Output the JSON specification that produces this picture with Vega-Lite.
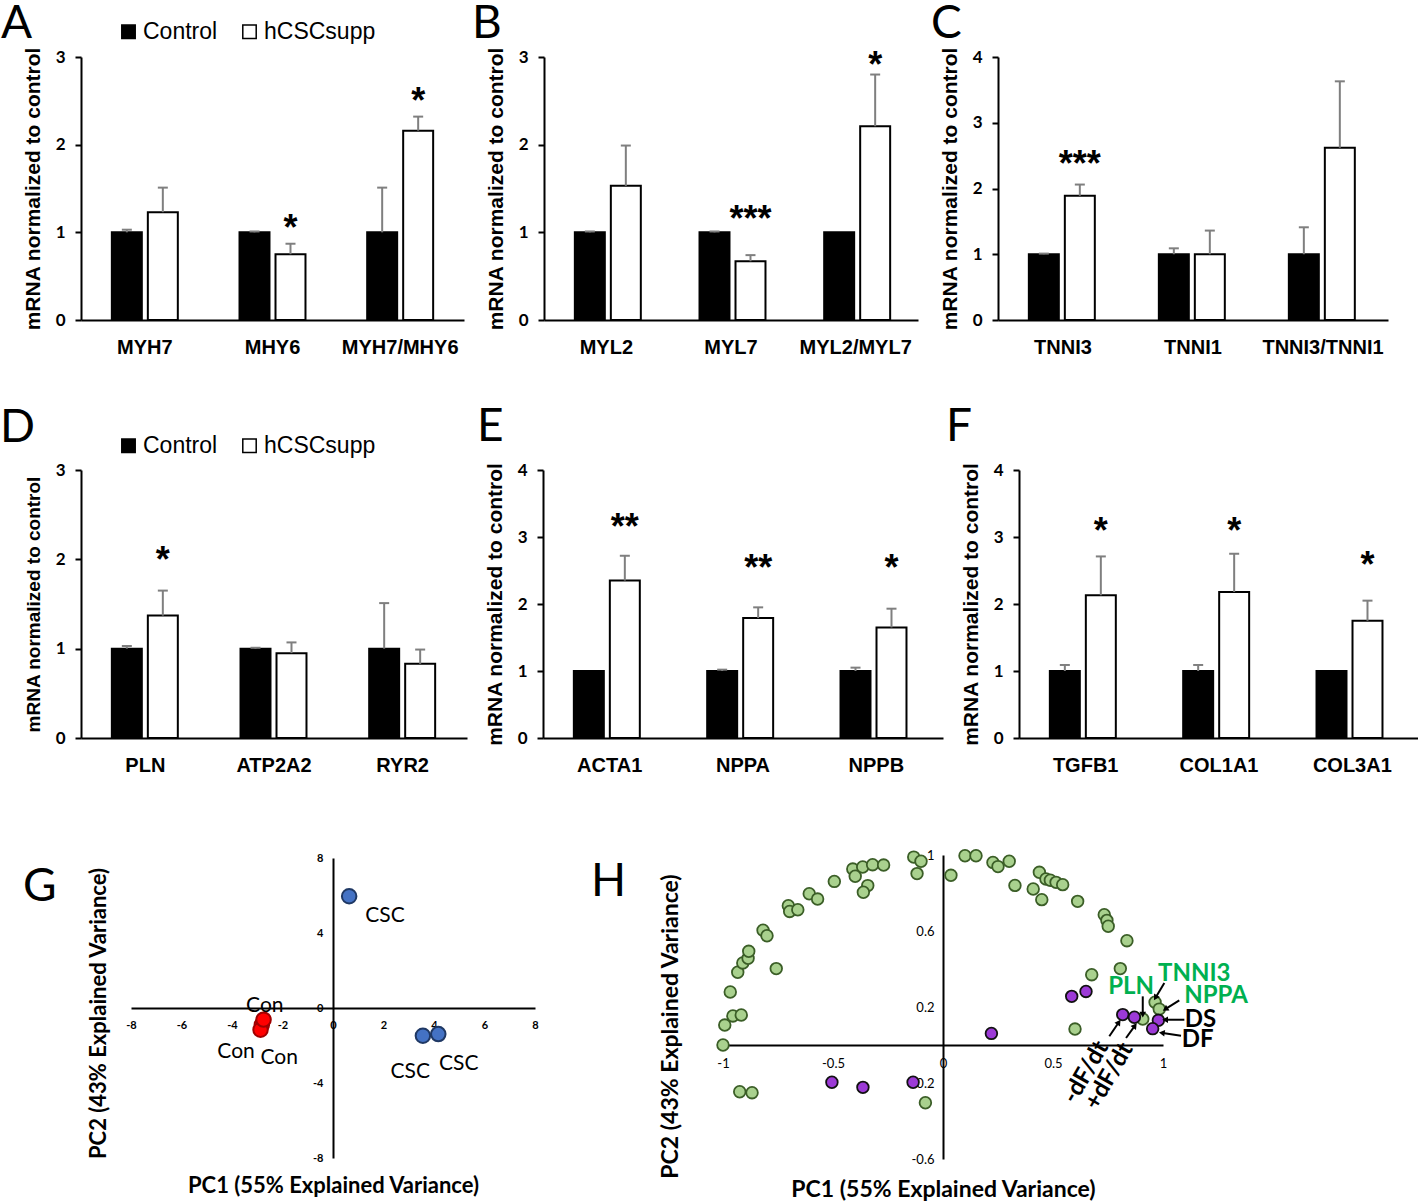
{
  "$schema": "https://vega.github.io/schema/vega-lite/v6.json",
  "background": "white",
  "padding": {"left": 0, "top": 0, "right": 0, "bottom": 0},
  "spacing": 71,
  "vconcat": [
    {
      "spacing": 47,
      "vconcat": [
        {
          "hconcat": [
            {
              "width": 383, "height": 263,
              "title": {"text": "A", "dx": -80, "dy": 32},
              "data": {"values": [
                {"gene": "MYH7", "group": "Control", "value": 1.0, "upper": 1.03},
                {"gene": "MYH7", "group": "hCSCsupp", "value": 1.23, "upper": 1.51},
                {"gene": "MHY6", "group": "Control", "value": 1.0, "upper": 1.01},
                {"gene": "MHY6", "group": "hCSCsupp", "value": 0.75, "upper": 0.87},
                {"gene": "MYH7/MHY6", "group": "Control", "value": 1.0, "upper": 1.51},
                {"gene": "MYH7/MHY6", "group": "hCSCsupp", "value": 2.16, "upper": 2.32}
              ]},
              "encoding": {
                "x": {"field": "gene", "type": "nominal", "sort": ["MYH7", "MHY6", "MYH7/MHY6"], "scale": {"paddingInner": 0, "paddingOuter": 0}, "axis": {"title": null}},
                "xOffset": {"field": "group", "type": "nominal", "sort": ["Control", "hCSCsupp"], "scale": {"paddingInner": 0.167, "paddingOuter": 0.857}}
              },
              "layer": [
                {"mark": {"type": "bar", "stroke": "black", "strokeWidth": 2},
                 "encoding": {
                   "y": {"field": "value", "type": "quantitative", "scale": {"domain": [0, 3]}, "axis": {"title": "mRNA normalized to control", "values": [0, 1, 2, 3]}},
                   "fill": {"field": "group", "type": "nominal", "scale": {"domain": ["Control", "hCSCsupp"], "range": ["black", "white"]},
                     "legend": {"orient": "none", "legendX": 36, "legendY": -37, "direction": "horizontal", "title": null, "columnPadding": 20, "labelOffset": 3}}}},
                {"transform": [{"filter": "datum.upper > datum.value"}], "mark": {"type": "rule", "color": "#7f7f7f", "strokeWidth": 2},
                 "encoding": {"y": {"field": "value", "type": "quantitative"}, "y2": {"field": "upper"}}},
                {"transform": [{"filter": "datum.upper > datum.value"}], "mark": {"type": "tick", "color": "#7f7f7f", "thickness": 2, "size": 10, "opacity": 1},
                 "encoding": {"y": {"field": "upper", "type": "quantitative"}}},
                {"data": {"values": [
                   {"gene": "MHY6", "group": "hCSCsupp", "sig": "*", "sy": 1.10},
                   {"gene": "MYH7/MHY6", "group": "hCSCsupp", "sig": "*", "sy": 2.54}
                 ]},
                 "mark": {"type": "text", "font": "Liberation Sans", "fontWeight": "bold", "fontSize": 36, "baseline": "alphabetic", "dy": 16},
                 "encoding": {"y": {"field": "sy", "type": "quantitative"}, "text": {"field": "sig"}}}
              ]
            },
            {
              "width": 374, "height": 263,
              "title": {"text": "B", "dx": -72, "dy": 5},
              "data": {"values": [
                {"gene": "MYL2", "group": "Control", "value": 1.0, "upper": 1.01},
                {"gene": "MYL2", "group": "hCSCsupp", "value": 1.53, "upper": 1.99},
                {"gene": "MYL7", "group": "Control", "value": 1.0, "upper": 1.01},
                {"gene": "MYL7", "group": "hCSCsupp", "value": 0.67, "upper": 0.74},
                {"gene": "MYL2/MYL7", "group": "Control", "value": 1.0, "upper": 1.0},
                {"gene": "MYL2/MYL7", "group": "hCSCsupp", "value": 2.21, "upper": 2.8}
              ]},
              "encoding": {
                "x": {"field": "gene", "type": "nominal", "sort": ["MYL2", "MYL7", "MYL2/MYL7"], "scale": {"paddingInner": 0, "paddingOuter": 0}, "axis": {"title": null}},
                "xOffset": {"field": "group", "type": "nominal", "sort": ["Control", "hCSCsupp"], "scale": {"paddingInner": 0.171, "paddingOuter": 0.867}}
              },
              "layer": [
                {"mark": {"type": "bar", "stroke": "black", "strokeWidth": 2},
                 "encoding": {
                   "y": {"field": "value", "type": "quantitative", "scale": {"domain": [0, 3]}, "axis": {"title": "mRNA normalized to control", "values": [0, 1, 2, 3]}},
                   "fill": {"field": "group", "type": "nominal", "scale": {"domain": ["Control", "hCSCsupp"], "range": ["black", "white"]}, "legend": null}}},
                {"transform": [{"filter": "datum.upper > datum.value"}], "mark": {"type": "rule", "color": "#7f7f7f", "strokeWidth": 2},
                 "encoding": {"y": {"field": "value", "type": "quantitative"}, "y2": {"field": "upper"}}},
                {"transform": [{"filter": "datum.upper > datum.value"}], "mark": {"type": "tick", "color": "#7f7f7f", "thickness": 2, "size": 10, "opacity": 1},
                 "encoding": {"y": {"field": "upper", "type": "quantitative"}}},
                {"data": {"values": [
                   {"gene": "MYL7", "group": "hCSCsupp", "sig": "***", "sy": 1.2},
                   {"gene": "MYL2/MYL7", "group": "hCSCsupp", "sig": "*", "sy": 2.96}
                 ]},
                 "mark": {"type": "text", "font": "Liberation Sans", "fontWeight": "bold", "fontSize": 36, "baseline": "alphabetic", "dy": 16},
                 "encoding": {"y": {"field": "sy", "type": "quantitative"}, "text": {"field": "sig"}}}
              ]
            },
            {
              "width": 390, "height": 263,
              "title": {"text": "C", "dx": -67, "dy": 5},
              "data": {"values": [
                {"gene": "TNNI3", "group": "Control", "value": 1.0, "upper": 1.01},
                {"gene": "TNNI3", "group": "hCSCsupp", "value": 1.89, "upper": 2.06},
                {"gene": "TNNI1", "group": "Control", "value": 1.0, "upper": 1.09},
                {"gene": "TNNI1", "group": "hCSCsupp", "value": 1.0, "upper": 1.36},
                {"gene": "TNNI3/TNNI1", "group": "Control", "value": 1.0, "upper": 1.41},
                {"gene": "TNNI3/TNNI1", "group": "hCSCsupp", "value": 2.62, "upper": 3.63}
              ]},
              "encoding": {
                "x": {"field": "gene", "type": "nominal", "sort": ["TNNI3", "TNNI1", "TNNI3/TNNI1"], "scale": {"paddingInner": 0, "paddingOuter": 0}, "axis": {"title": null}},
                "xOffset": {"field": "group", "type": "nominal", "sort": ["Control", "hCSCsupp"], "scale": {"paddingInner": 0.189, "paddingOuter": 0.851}}
              },
              "layer": [
                {"mark": {"type": "bar", "stroke": "black", "strokeWidth": 2},
                 "encoding": {
                   "y": {"field": "value", "type": "quantitative", "scale": {"domain": [0, 4]}, "axis": {"title": "mRNA normalized to control", "values": [0, 1, 2, 3, 4]}},
                   "fill": {"field": "group", "type": "nominal", "scale": {"domain": ["Control", "hCSCsupp"], "range": ["black", "white"]}, "legend": null}}},
                {"transform": [{"filter": "datum.upper > datum.value"}], "mark": {"type": "rule", "color": "#7f7f7f", "strokeWidth": 2},
                 "encoding": {"y": {"field": "value", "type": "quantitative"}, "y2": {"field": "upper"}}},
                {"transform": [{"filter": "datum.upper > datum.value"}], "mark": {"type": "tick", "color": "#7f7f7f", "thickness": 2, "size": 10, "opacity": 1},
                 "encoding": {"y": {"field": "upper", "type": "quantitative"}}},
                {"data": {"values": [
                   {"gene": "TNNI3", "group": "hCSCsupp", "sig": "***", "sy": 2.43}
                 ]},
                 "mark": {"type": "text", "font": "Liberation Sans", "fontWeight": "bold", "fontSize": 36, "baseline": "alphabetic", "dy": 16},
                 "encoding": {"y": {"field": "sy", "type": "quantitative"}, "text": {"field": "sig"}}}
              ]
            }
          ],
          "spacing": 80,
          "bounds": "flush",
          "resolve": {"scale": {"fill": "independent"}}
        },
        {
          "hconcat": [
            {
              "width": 386, "height": 268,
              "title": {"text": "D", "dx": -81, "dy": 22},
              "data": {"values": [
                {"gene": "PLN", "group": "Control", "value": 1.0, "upper": 1.03},
                {"gene": "PLN", "group": "hCSCsupp", "value": 1.37, "upper": 1.65},
                {"gene": "ATP2A2", "group": "Control", "value": 1.0, "upper": 1.01},
                {"gene": "ATP2A2", "group": "hCSCsupp", "value": 0.95, "upper": 1.07},
                {"gene": "RYR2", "group": "Control", "value": 1.0, "upper": 1.51},
                {"gene": "RYR2", "group": "hCSCsupp", "value": 0.83, "upper": 0.99}
              ]},
              "encoding": {
                "x": {"field": "gene", "type": "nominal", "sort": ["PLN", "ATP2A2", "RYR2"], "scale": {"paddingInner": 0, "paddingOuter": 0}, "axis": {"title": null}},
                "xOffset": {"field": "group", "type": "nominal", "sort": ["Control", "hCSCsupp"], "scale": {"paddingInner": 0.194, "paddingOuter": 0.884}}
              },
              "layer": [
                {"mark": {"type": "bar", "stroke": "black", "strokeWidth": 2},
                 "encoding": {
                   "y": {"field": "value", "type": "quantitative", "scale": {"domain": [0, 3]}, "axis": {"title": "mRNA normalized to control", "values": [0, 1, 2, 3], "titleFontSize": 19}},
                   "fill": {"field": "group", "type": "nominal", "scale": {"domain": ["Control", "hCSCsupp"], "range": ["black", "white"]},
                     "legend": {"orient": "none", "legendX": 36, "legendY": -36, "direction": "horizontal", "title": null, "columnPadding": 20, "labelOffset": 3}}}},
                {"transform": [{"filter": "datum.upper > datum.value"}], "mark": {"type": "rule", "color": "#7f7f7f", "strokeWidth": 2},
                 "encoding": {"y": {"field": "value", "type": "quantitative"}, "y2": {"field": "upper"}}},
                {"transform": [{"filter": "datum.upper > datum.value"}], "mark": {"type": "tick", "color": "#7f7f7f", "thickness": 2, "size": 10, "opacity": 1},
                 "encoding": {"y": {"field": "upper", "type": "quantitative"}}},
                {"data": {"values": [
                   {"gene": "PLN", "group": "hCSCsupp", "sig": "*", "sy": 2.04}
                 ]},
                 "mark": {"type": "text", "font": "Liberation Sans", "fontWeight": "bold", "fontSize": 36, "baseline": "alphabetic", "dy": 16},
                 "encoding": {"y": {"field": "sy", "type": "quantitative"}, "text": {"field": "sig"}}}
              ]
            },
            {
              "width": 400, "height": 268,
              "title": {"text": "E", "dx": -66, "dy": -6},
              "data": {"values": [
                {"gene": "ACTA1", "group": "Control", "value": 1.0, "upper": 1.0},
                {"gene": "ACTA1", "group": "hCSCsupp", "value": 2.35, "upper": 2.72},
                {"gene": "NPPA", "group": "Control", "value": 1.0, "upper": 1.02},
                {"gene": "NPPA", "group": "hCSCsupp", "value": 1.79, "upper": 1.95},
                {"gene": "NPPB", "group": "Control", "value": 1.0, "upper": 1.05},
                {"gene": "NPPB", "group": "hCSCsupp", "value": 1.65, "upper": 1.93}
              ]},
              "encoding": {
                "x": {"field": "gene", "type": "nominal", "sort": ["ACTA1", "NPPA", "NPPB"], "scale": {"paddingInner": 0, "paddingOuter": 0}, "axis": {"title": null}},
                "xOffset": {"field": "group", "type": "nominal", "sort": ["Control", "hCSCsupp"], "scale": {"paddingInner": 0.18, "paddingOuter": 0.8}}
              },
              "layer": [
                {"mark": {"type": "bar", "stroke": "black", "strokeWidth": 2},
                 "encoding": {
                   "y": {"field": "value", "type": "quantitative", "scale": {"domain": [0, 4]}, "axis": {"title": "mRNA normalized to control", "values": [0, 1, 2, 3, 4]}},
                   "fill": {"field": "group", "type": "nominal", "scale": {"domain": ["Control", "hCSCsupp"], "range": ["black", "white"]}, "legend": null}}},
                {"transform": [{"filter": "datum.upper > datum.value"}], "mark": {"type": "rule", "color": "#7f7f7f", "strokeWidth": 2},
                 "encoding": {"y": {"field": "value", "type": "quantitative"}, "y2": {"field": "upper"}}},
                {"transform": [{"filter": "datum.upper > datum.value"}], "mark": {"type": "tick", "color": "#7f7f7f", "thickness": 2, "size": 10, "opacity": 1},
                 "encoding": {"y": {"field": "upper", "type": "quantitative"}}},
                {"data": {"values": [
                   {"gene": "ACTA1", "group": "hCSCsupp", "sig": "**", "sy": 3.21},
                   {"gene": "NPPA", "group": "hCSCsupp", "sig": "**", "sy": 2.59},
                   {"gene": "NPPB", "group": "hCSCsupp", "sig": "*", "sy": 2.59}
                 ]},
                 "mark": {"type": "text", "font": "Liberation Sans", "fontWeight": "bold", "fontSize": 36, "baseline": "alphabetic", "dy": 16},
                 "encoding": {"y": {"field": "sy", "type": "quantitative"}, "text": {"field": "sig"}}}
              ]
            },
            {
              "width": 400, "height": 268,
              "title": {"text": "F", "dx": -73, "dy": -6},
              "data": {"values": [
                {"gene": "TGFB1", "group": "Control", "value": 1.0, "upper": 1.09},
                {"gene": "TGFB1", "group": "hCSCsupp", "value": 2.13, "upper": 2.71},
                {"gene": "COL1A1", "group": "Control", "value": 1.0, "upper": 1.09},
                {"gene": "COL1A1", "group": "hCSCsupp", "value": 2.18, "upper": 2.75},
                {"gene": "COL3A1", "group": "Control", "value": 1.0, "upper": 1.0},
                {"gene": "COL3A1", "group": "hCSCsupp", "value": 1.75, "upper": 2.05}
              ]},
              "encoding": {
                "x": {"field": "gene", "type": "nominal", "sort": ["TGFB1", "COL1A1", "COL3A1"], "scale": {"paddingInner": 0, "paddingOuter": 0}, "axis": {"title": null}},
                "xOffset": {"field": "group", "type": "nominal", "sort": ["Control", "hCSCsupp"], "scale": {"paddingInner": 0.18, "paddingOuter": 0.8}}
              },
              "layer": [
                {"mark": {"type": "bar", "stroke": "black", "strokeWidth": 2},
                 "encoding": {
                   "y": {"field": "value", "type": "quantitative", "scale": {"domain": [0, 4]}, "axis": {"title": "mRNA normalized to control", "values": [0, 1, 2, 3, 4]}},
                   "fill": {"field": "group", "type": "nominal", "scale": {"domain": ["Control", "hCSCsupp"], "range": ["black", "white"]}, "legend": null}}},
                {"transform": [{"filter": "datum.upper > datum.value"}], "mark": {"type": "rule", "color": "#7f7f7f", "strokeWidth": 2},
                 "encoding": {"y": {"field": "value", "type": "quantitative"}, "y2": {"field": "upper"}}},
                {"transform": [{"filter": "datum.upper > datum.value"}], "mark": {"type": "tick", "color": "#7f7f7f", "thickness": 2, "size": 10, "opacity": 1},
                 "encoding": {"y": {"field": "upper", "type": "quantitative"}}},
                {"data": {"values": [
                   {"gene": "TGFB1", "group": "hCSCsupp", "sig": "*", "sy": 3.15},
                   {"gene": "COL1A1", "group": "hCSCsupp", "sig": "*", "sy": 3.15},
                   {"gene": "COL3A1", "group": "hCSCsupp", "sig": "*", "sy": 2.64}
                 ]},
                 "mark": {"type": "text", "font": "Liberation Sans", "fontWeight": "bold", "fontSize": 36, "baseline": "alphabetic", "dy": 16},
                 "encoding": {"y": {"field": "sy", "type": "quantitative"}, "text": {"field": "sig"}}}
              ]
            }
          ],
          "spacing": 76,
          "bounds": "flush",
          "resolve": {"scale": {"fill": "independent"}}
        }
      ]
    },
    {
      "hconcat": [
        {
          "width": 454, "height": 303,
          "title": {"text": "G", "dx": -58, "dy": 63},
          "layer": [
            {"data": {"values": [
               {"pc1": -2.82, "pc2": -0.9, "group": "Con"},
               {"pc1": -2.87, "pc2": -1.16, "group": "Con"},
               {"pc1": -2.75, "pc2": -0.62, "group": "Con"},
               {"pc1": 0.64, "pc2": 5.96, "group": "CSC"},
               {"pc1": 3.56, "pc2": -1.48, "group": "CSC"},
               {"pc1": 4.17, "pc2": -1.39, "group": "CSC"}
             ]},
             "mark": {"type": "circle", "size": 210, "strokeWidth": 2, "opacity": 1},
             "encoding": {
               "x": {"field": "pc1", "type": "quantitative", "scale": {"domain": [-8, 8], "range": [50, 454], "nice": false, "zero": false},
                 "axis": {"title": "PC1 (55% Explained Variance)", "offset": -150, "values": [-8, -6, -4, -2, 0, 2, 4, 6, 8], "labelExpr": "toString(datum.value)", "labelOverlap": false, "ticks": false, "labelFlush": false, "labelFont": "Lato", "labelFontWeight": "bold", "labelFontSize": 11, "labelPadding": 11, "titleFont": "Lato", "titleFontWeight": "bold", "titleFontSize": 22, "titleY": 167}},
               "y": {"field": "pc2", "type": "quantitative", "scale": {"domain": [-8, 8], "range": [303, 3], "nice": false, "zero": false},
                 "axis": {"title": "PC2 (43% Explained Variance)", "offset": -252, "values": [-8, -6, -4, -2, 0, 2, 4, 6, 8], "labelExpr": "toString(datum.value)", "labelOverlap": false, "ticks": false, "labelFont": "Lato", "labelFontWeight": "bold", "labelFontSize": 11, "labelPadding": 10, "titleFont": "Lato", "titleFontWeight": "bold", "titleFontSize": 22, "titleX": -223, "titleY": 158}},
               "fill": {"field": "group", "type": "nominal", "scale": {"domain": ["Con", "CSC"], "range": ["#ff0000", "#4472c4"]}, "legend": null},
               "stroke": {"field": "group", "type": "nominal", "scale": {"domain": ["Con", "CSC"], "range": ["#a00000", "#1f3864"]}, "legend": null}
             }},
            {"data": {"values": [
               {"label": "CSC", "lx": 2.06, "ly": 4.92},
               {"label": "CSC", "lx": 3.06, "ly": -3.43},
               {"label": "CSC", "lx": 4.98, "ly": -2.97},
               {"label": "Con", "lx": -2.7, "ly": 0.09},
               {"label": "Con", "lx": -3.84, "ly": -2.36},
               {"label": "Con", "lx": -2.13, "ly": -2.67}
             ]},
             "mark": {"type": "text", "font": "Lato", "fontSize": 21, "color": "black"},
             "encoding": {
               "x": {"field": "lx", "type": "quantitative"},
               "y": {"field": "ly", "type": "quantitative"},
               "text": {"field": "label"}
             }}
          ]
        },
        {
          "width": 440, "height": 304,
          "title": {"text": "H", "dx": -132, "dy": 64},
          "layer": [
            {"data": {"values": [
               {"pc1": -1.0, "pc2": 0.0, "type": "gene"},
               {"pc1": -0.992, "pc2": 0.105, "type": "gene"},
               {"pc1": -0.955, "pc2": 0.153, "type": "gene"},
               {"pc1": -0.917, "pc2": 0.158, "type": "gene"},
               {"pc1": -0.967, "pc2": 0.279, "type": "gene"},
               {"pc1": -0.933, "pc2": 0.383, "type": "gene"},
               {"pc1": -0.91, "pc2": 0.432, "type": "gene"},
               {"pc1": -0.886, "pc2": 0.456, "type": "gene"},
               {"pc1": -0.883, "pc2": 0.493, "type": "gene"},
               {"pc1": -0.818, "pc2": 0.604, "type": "gene"},
               {"pc1": -0.8, "pc2": 0.575, "type": "gene"},
               {"pc1": -0.758, "pc2": 0.402, "type": "gene"},
               {"pc1": -0.703, "pc2": 0.733, "type": "gene"},
               {"pc1": -0.697, "pc2": 0.703, "type": "gene"},
               {"pc1": -0.66, "pc2": 0.712, "type": "gene"},
               {"pc1": -0.608, "pc2": 0.796, "type": "gene"},
               {"pc1": -0.57, "pc2": 0.768, "type": "gene"},
               {"pc1": -0.494, "pc2": 0.861, "type": "gene"},
               {"pc1": -0.41, "pc2": 0.926, "type": "gene"},
               {"pc1": -0.365, "pc2": 0.937, "type": "gene"},
               {"pc1": -0.399, "pc2": 0.888, "type": "gene"},
               {"pc1": -0.342, "pc2": 0.839, "type": "gene"},
               {"pc1": -0.362, "pc2": 0.804, "type": "gene"},
               {"pc1": -0.32, "pc2": 0.949, "type": "gene"},
               {"pc1": -0.27, "pc2": 0.947, "type": "gene"},
               {"pc1": -0.133, "pc2": 0.989, "type": "gene"},
               {"pc1": -0.1, "pc2": 0.967, "type": "gene"},
               {"pc1": -0.118, "pc2": 0.902, "type": "gene"},
               {"pc1": 0.036, "pc2": 0.893, "type": "gene"},
               {"pc1": 0.1, "pc2": 0.996, "type": "gene"},
               {"pc1": 0.15, "pc2": 0.996, "type": "gene"},
               {"pc1": 0.227, "pc2": 0.961, "type": "gene"},
               {"pc1": 0.25, "pc2": 0.939, "type": "gene"},
               {"pc1": 0.301, "pc2": 0.967, "type": "gene"},
               {"pc1": 0.327, "pc2": 0.84, "type": "gene"},
               {"pc1": 0.438, "pc2": 0.909, "type": "gene"},
               {"pc1": 0.468, "pc2": 0.874, "type": "gene"},
               {"pc1": 0.488, "pc2": 0.867, "type": "gene"},
               {"pc1": 0.514, "pc2": 0.856, "type": "gene"},
               {"pc1": 0.544, "pc2": 0.844, "type": "gene"},
               {"pc1": 0.41, "pc2": 0.821, "type": "gene"},
               {"pc1": 0.449, "pc2": 0.765, "type": "gene"},
               {"pc1": 0.612, "pc2": 0.756, "type": "gene"},
               {"pc1": 0.733, "pc2": 0.686, "type": "gene"},
               {"pc1": 0.745, "pc2": 0.656, "type": "gene"},
               {"pc1": 0.751, "pc2": 0.625, "type": "gene"},
               {"pc1": 0.836, "pc2": 0.549, "type": "gene"},
               {"pc1": 0.806, "pc2": 0.402, "type": "gene"},
               {"pc1": 0.676, "pc2": 0.37, "type": "gene"},
               {"pc1": 0.6, "pc2": 0.084, "type": "gene"},
               {"pc1": 0.964, "pc2": 0.225, "type": "gene"},
               {"pc1": 0.983, "pc2": 0.189, "type": "gene"},
               {"pc1": 0.908, "pc2": 0.137, "type": "gene"},
               {"pc1": -0.924, "pc2": -0.246, "type": "gene"},
               {"pc1": -0.868, "pc2": -0.251, "type": "gene"},
               {"pc1": -0.08, "pc2": -0.304, "type": "gene"},
               {"pc1": -0.505, "pc2": -0.196, "type": "function"},
               {"pc1": -0.364, "pc2": -0.223, "type": "function"},
               {"pc1": -0.136, "pc2": -0.196, "type": "function"},
               {"pc1": 0.22, "pc2": 0.061, "type": "function"},
               {"pc1": 0.585, "pc2": 0.256, "type": "function"},
               {"pc1": 0.65, "pc2": 0.282, "type": "function"},
               {"pc1": 0.817, "pc2": 0.16, "type": "function"},
               {"pc1": 0.87, "pc2": 0.146, "type": "function"},
               {"pc1": 0.979, "pc2": 0.13, "type": "function"},
               {"pc1": 0.953, "pc2": 0.086, "type": "function"}
             ]},
             "mark": {"type": "circle", "size": 135, "strokeWidth": 1.8, "opacity": 1},
             "encoding": {
               "x": {"field": "pc1", "type": "quantitative", "scale": {"domain": [-1, 1], "nice": false, "zero": false},
                 "axis": {"title": "PC1 (55% Explained Variance)", "offset": -114, "values": [-1, -0.5, 0, 0.5, 1], "labelExpr": "toString(datum.value)", "labelOverlap": false, "ticks": false, "labelFlush": false, "labelFont": "Lato", "labelFontWeight": "normal", "labelFontSize": 13, "labelPadding": 12, "titleFont": "Lato", "titleFontWeight": "bold", "titleFontSize": 23, "titleY": 133}},
               "y": {"field": "pc2", "type": "quantitative", "scale": {"domain": [-0.6, 1], "nice": false, "zero": false},
                 "axis": {"title": "PC2 (43% Explained Variance)", "offset": -220, "values": [-0.6, -0.4, -0.2, 0, 0.2, 0.4, 0.6, 0.8, 1], "labelExpr": "toString(datum.value)", "labelOverlap": false, "ticks": false, "labelFont": "Lato", "labelFontWeight": "normal", "labelFontSize": 13, "labelPadding": 9, "titleFont": "Lato", "titleFontWeight": "bold", "titleFontSize": 23, "titleX": -261, "titleY": 171}},
               "fill": {"field": "type", "type": "nominal", "scale": {"domain": ["gene", "function"], "range": ["#a9d18e", "#9c3ad6"]}, "legend": null},
               "stroke": {"field": "type", "type": "nominal", "scale": {"domain": ["gene", "function"], "range": ["#3b5e27", "#111111"]}, "legend": null}
             }},
            {"data": {"values": [
               {"x": 1.006, "y": 0.326, "x2": 0.968, "y2": 0.253, "angle": -149},
               {"x": 1.074, "y": 0.235, "x2": 1.014, "y2": 0.191, "angle": -122},
               {"x": 0.908, "y": 0.256, "x2": 0.908, "y2": 0.165, "angle": 180},
               {"x": 1.097, "y": 0.133, "x2": 1.014, "y2": 0.133, "angle": -90},
               {"x": 1.082, "y": 0.049, "x2": 0.999, "y2": 0.063, "angle": -82},
               {"x": 0.756, "y": 0.046, "x2": 0.797, "y2": 0.116, "angle": 34},
               {"x": 0.832, "y": 0.037, "x2": 0.87, "y2": 0.098, "angle": 36}
             ]},
             "layer": [
               {"mark": {"type": "rule", "color": "black", "strokeWidth": 2},
                "encoding": {
                  "x": {"field": "x", "type": "quantitative"},
                  "y": {"field": "y", "type": "quantitative"},
                  "x2": {"field": "x2"},
                  "y2": {"field": "y2"}
                }},
               {"mark": {"type": "point", "shape": "triangle", "filled": true, "color": "black", "size": 45, "opacity": 1},
                "encoding": {
                  "x": {"field": "x2", "type": "quantitative"},
                  "y": {"field": "y2", "type": "quantitative"},
                  "angle": {"field": "angle", "type": "quantitative", "scale": null}
                }}
             ]},
            {"data": {"values": [
               {"label": "TNNI3", "lx": 1.142, "ly": 0.374, "type": "gene"},
               {"label": "NPPA", "lx": 1.241, "ly": 0.256, "type": "gene"},
               {"label": "PLN", "lx": 0.855, "ly": 0.304, "type": "gene"},
               {"label": "DS", "lx": 1.17, "ly": 0.133, "type": "function"},
               {"label": "DF", "lx": 1.158, "ly": 0.025, "type": "function"}
             ]},
             "mark": {"type": "text", "font": "Lato", "fontWeight": "bold", "fontSize": 24},
             "encoding": {
               "x": {"field": "lx", "type": "quantitative"},
               "y": {"field": "ly", "type": "quantitative"},
               "text": {"field": "label"},
               "color": {"field": "type", "type": "nominal", "scale": {"domain": ["gene", "function"], "range": ["#00b050", "black"]}, "legend": null}
             }},
            {"data": {"values": [
               {"label": "-dF/dt", "lx": 0.65, "ly": -0.144},
               {"label": "+dF/dt", "lx": 0.756, "ly": -0.165}
             ]},
             "mark": {"type": "text", "font": "Lato", "fontWeight": "bold", "fontSize": 24, "angle": -60, "color": "black"},
             "encoding": {
               "x": {"field": "lx", "type": "quantitative"},
               "y": {"field": "ly", "type": "quantitative"},
               "text": {"field": "label"}
             }}
          ]
        }
      ],
      "spacing": 188,
      "bounds": "flush",
      "resolve": {"scale": {"fill": "independent", "stroke": "independent", "color": "independent"}}
    }
  ],
  "config": {
    "view": {"stroke": null},
    "axis": {"grid": false, "domainColor": "black", "domainWidth": 2, "tickColor": "black", "tickWidth": 2, "labelColor": "black", "titleColor": "black"},
    "axisBand": {"ticks": false, "labelAngle": 0, "labelFont": "Liberation Sans", "labelFontWeight": "bold", "labelFontSize": 20, "labelPadding": 17},
    "axisY": {"tickSize": 6, "format": "d", "labelFont": "Lato", "labelFontWeight": "bold", "labelFontSize": 17, "labelPadding": 10, "titleFont": "Liberation Sans", "titleFontWeight": "bold", "titleFontSize": 21, "titlePadding": 12},
    "title": {"font": "Lato", "fontSize": 46, "fontWeight": "normal", "color": "black", "anchor": "start", "frame": "group", "offset": 0},
    "legend": {"labelFont": "Liberation Sans", "labelFontSize": 23, "labelColor": "black", "symbolType": "square", "symbolSize": 180, "symbolStrokeColor": "black", "symbolStrokeWidth": 1.5}
  }
}
